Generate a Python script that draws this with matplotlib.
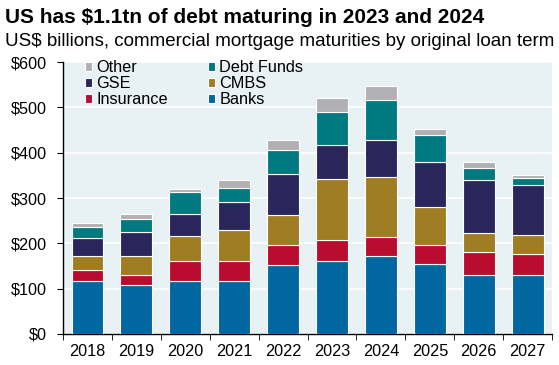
import numpy as np
import matplotlib.pyplot as plt

plt.rcParams['font.family'] = ['Liberation Sans', 'DejaVu Sans']

years = ['2018', '2019', '2020', '2021', '2022', '2023', '2024', '2025', '2026', '2027']

# US$ billions, stacked bottom to top
banks = [116, 107, 116, 116, 152, 162, 172, 155, 130, 130]
insurance = [25, 24, 45, 46, 44, 45, 42, 42, 50, 46]
cmbs = [32, 42, 56, 67, 66, 135, 132, 83, 42, 42]
gse = [38, 52, 48, 62, 90, 76, 82, 100, 117, 110]
debt_funds = [24, 29, 48, 32, 55, 72, 89, 58, 27, 16]
other = [10, 10, 7, 16, 22, 31, 30, 14, 14, 7]

series = [
    ('Banks', banks, '#0067A0'),
    ('Insurance', insurance, '#BA0C2F'),
    ('CMBS', cmbs, '#A07C22'),
    ('GSE', gse, '#2A265B'),
    ('Debt Funds', debt_funds, '#007A80'),
    ('Other', other, '#B1B1B3'),
]

fig = plt.figure(figsize=(5.59, 3.65), dpi=100)
ax = fig.add_axes([0.1127, 0.085, 0.875, 0.745])
ax.set_facecolor('#E8F1F4')

x = np.arange(len(years))
bottom = np.zeros(len(years))
handles = {}
for name, vals, col in series:
    b = ax.bar(x, vals, bottom=bottom, width=0.65, color=col,
               edgecolor='white', linewidth=0.8, zorder=3)
    handles[name] = b
    bottom += np.array(vals)

ax.set_ylim(0, 600)
ax.set_xlim(-0.5, len(years) - 0.5)
ax.set_yticks(range(0, 601, 100))
ax.set_yticklabels(['$%d' % v for v in range(0, 601, 100)], fontsize=11.7)
ax.yaxis.grid(True, color='white', linewidth=1.2, zorder=1)

ax.set_xticks(x)
ax.set_xticklabels(years, fontsize=11.7)
ax.tick_params(axis='x', which='major', length=0, pad=7)
ax.set_xticks(np.arange(-0.5, len(years)), minor=True)
ax.tick_params(axis='x', which='minor', length=4, direction='out', color='black')
ax.tick_params(axis='y', length=4, direction='out', pad=7.5)

for s in ['top', 'right']:
    ax.spines[s].set_visible(False)
for s in ['left', 'bottom']:
    ax.spines[s].set_color('black')
    ax.spines[s].set_linewidth(1)

order = ['Other', 'GSE', 'Insurance', 'Debt Funds', 'CMBS', 'Banks']
ax.legend([handles[n] for n in order], order, ncol=2, frameon=False,
          loc='upper left', bbox_to_anchor=(0.045, 1.006), fontsize=11.7,
          handlelength=0.45, handleheight=0.45, handletextpad=0.25,
          labelspacing=0.05, columnspacing=2.45, borderaxespad=0, borderpad=0)

fig.text(0.009, 0.937, 'US has $1.1tn of debt maturing in 2023 and 2024',
         fontsize=15, fontweight='bold', va='baseline')
fig.text(0.009, 0.874, 'US$ billions, commercial mortgage maturities by original loan term',
         fontsize=13.5, va='baseline')

fig.savefig('out.png', dpi=100)
